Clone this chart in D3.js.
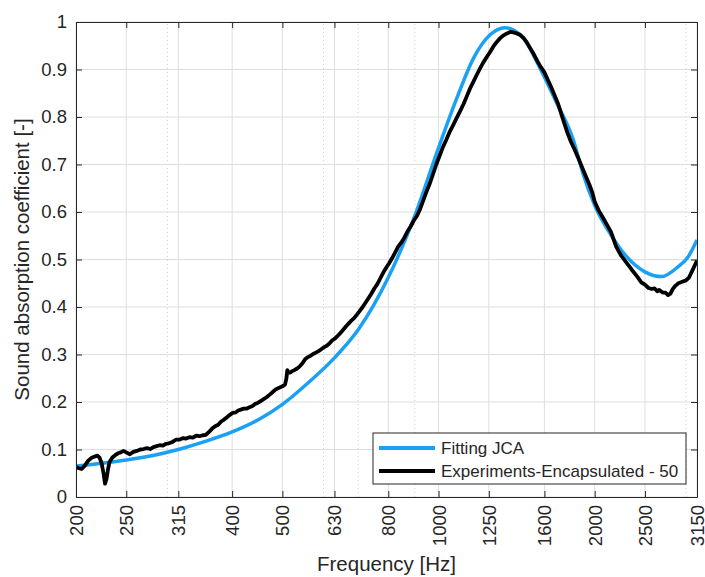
<!DOCTYPE html>
<html>
<head>
<meta charset="utf-8">
<script src="https://cdn.jsdelivr.net/npm/d3@7"></script>
<style>
  body { margin: 0; background: #fff; }
  svg { font-family: "Liberation Sans", Arial, sans-serif; }
</style>
</head>
<body>
<script>
// x ticks (third-octave centre frequencies) and minor grid
const xTicks = [200, 250, 315, 400, 500, 630, 800, 1000, 1250, 1600, 2000, 2500, 3150];
const xMinor = [300, 600, 700, 900, 3000];
const yTicks = [0, 0.1, 0.2, 0.3, 0.4, 0.5, 0.6, 0.7, 0.8, 0.9, 1];

// Fitting JCA
const fitFreq = [200, 225, 250, 280, 315, 355, 400, 450, 500, 560, 630, 700, 800, 900, 1000, 1084, 1167, 1257, 1300, 1340, 1400, 1457, 1569, 1689, 1819, 1900, 2000, 2141, 2305, 2500, 2691, 2898, 3030, 3150];
const fitAlpha = [0.065, 0.071, 0.078, 0.087, 0.100, 0.117, 0.137, 0.163, 0.195, 0.240, 0.293, 0.352, 0.462, 0.592, 0.735, 0.839, 0.923, 0.973, 0.984, 0.988, 0.982, 0.966, 0.903, 0.830, 0.752, 0.680, 0.614, 0.555, 0.506, 0.474, 0.464, 0.485, 0.506, 0.541];

// Experiments - encapsulated 50
const expFreq = [200, 202, 205, 208, 211, 214, 217, 220, 222, 224, 226, 227.5, 229, 230.5, 232, 235, 238, 241, 244, 247, 250, 254, 258, 262, 266, 270, 274, 278, 282, 286, 290, 294, 298, 302, 307, 312, 317, 322, 326, 331, 336, 341, 346, 351, 356, 361, 366, 371, 376, 381, 386, 391, 396, 401, 406, 411, 416, 421, 426, 432, 437, 443, 448, 454, 460, 466, 472, 479, 486, 493, 500, 506, 509, 511, 514, 518, 522, 527, 533, 540, 547, 553, 559, 566, 573, 580, 587, 594, 601, 608, 616, 624, 632, 640, 648, 656, 664, 672, 680, 688, 696, 705, 714, 723, 732, 742, 752, 762, 772, 782, 792, 803, 814, 825, 836, 848, 860, 872, 884, 896, 909, 922, 935, 948, 962, 976, 990, 1006, 1020, 1035, 1050, 1067, 1084, 1100, 1118, 1135, 1150, 1167, 1185, 1203, 1220, 1238, 1257, 1275, 1295, 1315, 1335, 1355, 1375, 1395, 1415, 1435, 1457, 1480, 1500, 1525, 1550, 1575, 1600, 1625, 1650, 1675, 1700, 1725, 1750, 1773, 1800, 1830, 1862, 1890, 1920, 1955, 1980, 2000, 2036, 2070, 2110, 2150, 2200, 2250, 2305, 2360, 2416, 2460, 2500, 2540, 2575, 2610, 2640, 2664, 2700, 2740, 2770, 2800, 2830, 2857, 2900, 2950, 3000, 3040, 3080, 3120, 3150];
const expAlpha = [0.063, 0.061, 0.059, 0.066, 0.076, 0.082, 0.085, 0.087, 0.083, 0.072, 0.050, 0.028, 0.038, 0.058, 0.073, 0.083, 0.088, 0.092, 0.094, 0.097, 0.094, 0.090, 0.095, 0.097, 0.100, 0.101, 0.103, 0.101, 0.105, 0.107, 0.109, 0.108, 0.112, 0.113, 0.116, 0.121, 0.121, 0.124, 0.123, 0.126, 0.125, 0.129, 0.128, 0.130, 0.131, 0.137, 0.144, 0.149, 0.152, 0.159, 0.163, 0.168, 0.173, 0.177, 0.178, 0.182, 0.184, 0.186, 0.186, 0.189, 0.191, 0.196, 0.198, 0.202, 0.206, 0.210, 0.215, 0.221, 0.227, 0.230, 0.233, 0.237, 0.250, 0.267, 0.262, 0.262, 0.265, 0.267, 0.270, 0.275, 0.282, 0.290, 0.294, 0.297, 0.301, 0.304, 0.307, 0.311, 0.315, 0.318, 0.323, 0.330, 0.334, 0.340, 0.346, 0.353, 0.360, 0.366, 0.372, 0.377, 0.384, 0.392, 0.400, 0.409, 0.418, 0.428, 0.439, 0.448, 0.460, 0.472, 0.482, 0.492, 0.503, 0.515, 0.527, 0.536, 0.547, 0.560, 0.570, 0.582, 0.592, 0.607, 0.625, 0.643, 0.660, 0.680, 0.700, 0.720, 0.737, 0.752, 0.768, 0.783, 0.798, 0.812, 0.828, 0.845, 0.860, 0.874, 0.889, 0.903, 0.915, 0.926, 0.937, 0.948, 0.958, 0.966, 0.972, 0.976, 0.979, 0.978, 0.976, 0.973, 0.967, 0.957, 0.946, 0.933, 0.918, 0.905, 0.894, 0.878, 0.862, 0.845, 0.828, 0.806, 0.785, 0.766, 0.748, 0.731, 0.712, 0.695, 0.677, 0.657, 0.640, 0.622, 0.603, 0.590, 0.574, 0.558, 0.527, 0.508, 0.493, 0.478, 0.464, 0.452, 0.447, 0.440, 0.438, 0.439, 0.433, 0.436, 0.431, 0.430, 0.425, 0.428, 0.438, 0.444, 0.450, 0.453, 0.456, 0.462, 0.475, 0.488, 0.498];

const seriesNames = ["Fitting JCA", "Experiments-Encapsulated - 50"];
const seriesColors = ["#1aa1f5", "#000000"];

const W = 705, H = 577;
const margin = {left: 76, right: 8, top: 22, bottom: 80};
const axisColor = "#262626";

const svg = d3.select("body").append("svg")
    .attr("width", W)
    .attr("height", H);

const x = d3.scaleLog().domain([200, 3150]).range([margin.left, W - margin.right]);
const y = d3.scaleLinear().domain([0, 1]).range([H - margin.bottom, margin.top]);

// grid
const grid = svg.append("g");
grid.selectAll("line.xg").data(xTicks).enter().append("line")
    .attr("x1", d => x(d)).attr("x2", d => x(d))
    .attr("y1", y(0)).attr("y2", y(1))
    .attr("stroke", "#dedede").attr("stroke-width", 1);
grid.selectAll("line.xm").data(xMinor).enter().append("line")
    .attr("x1", d => x(d)).attr("x2", d => x(d))
    .attr("y1", y(0)).attr("y2", y(1))
    .attr("stroke", "#cfcfcf").attr("stroke-width", 1)
    .attr("stroke-dasharray", "1,3");
grid.selectAll("line.yg").data(yTicks).enter().append("line")
    .attr("x1", x(200)).attr("x2", x(3150))
    .attr("y1", d => y(d)).attr("y2", d => y(d))
    .attr("stroke", "#dedede").attr("stroke-width", 1);

svg.append("clipPath").attr("id", "clip").append("rect")
    .attr("x", x(200)).attr("y", y(1))
    .attr("width", x(3150) - x(200)).attr("height", y(0) - y(1));

const line = d3.line().x(d => x(d[0])).y(d => y(d[1]));

const fitData = fitFreq.map((f, i) => [f, fitAlpha[i]]);
const expData = expFreq.map((f, i) => [f, expAlpha[i]]);

const plot = svg.append("g").attr("clip-path", "url(#clip)");
plot.append("path").datum(fitData)
    .attr("d", line.curve(d3.curveMonotoneX))
    .attr("fill", "none").attr("stroke", seriesColors[0]).attr("stroke-width", 3.5);
plot.append("path").datum(expData)
    .attr("d", line.curve(d3.curveLinear))
    .attr("fill", "none").attr("stroke", seriesColors[1]).attr("stroke-width", 3.8)
    .attr("stroke-linejoin", "round");

// axes (ticks point inward)
const xAxis = svg.append("g")
    .attr("transform", `translate(0,${y(0)})`)
    .call(d3.axisBottom(x).tickValues(xTicks).tickFormat(d3.format("d")).tickSizeInner(-6).tickSizeOuter(0).tickPadding(8));
xAxis.selectAll("text")
    .attr("transform", d => `rotate(-90)`)
    .attr("x", -8).attr("y", 0).attr("dy", "0.35em")
    .style("text-anchor", "end");

svg.append("g")
    .attr("transform", `translate(0,${y(1)})`)
    .call(d3.axisTop(x).tickValues(xTicks).tickFormat("").tickSizeInner(-6).tickSizeOuter(0));

svg.append("g")
    .attr("transform", `translate(${x(200)},0)`)
    .call(d3.axisLeft(y).tickValues(yTicks).tickFormat(d => d === 0 || d === 1 ? d3.format("d")(d) : d3.format(".1f")(d)).tickSizeInner(-6).tickSizeOuter(0).tickPadding(9));

svg.append("g")
    .attr("transform", `translate(${x(3150)},0)`)
    .call(d3.axisRight(y).tickValues(yTicks).tickFormat("").tickSizeInner(-6).tickSizeOuter(0));

svg.selectAll(".domain").attr("stroke", axisColor);
svg.selectAll(".tick line").attr("stroke", axisColor);
svg.selectAll(".tick text").attr("fill", axisColor).style("font-size", "18.5px")
    .style("font-family", "'Liberation Sans', Arial, sans-serif");

// axis labels
svg.append("text")
    .attr("x", (x(200) + x(3150)) / 2).attr("y", 571)
    .attr("text-anchor", "middle").attr("fill", axisColor)
    .style("font-size", "20.5px")
    .text("Frequency [Hz]");
svg.append("text")
    .attr("transform", `translate(29,${(y(0) + y(1)) / 2}) rotate(-90)`)
    .attr("text-anchor", "middle").attr("fill", axisColor)
    .style("font-size", "20.5px")
    .text("Sound absorption coefficient [-]");

// legend
const lg = svg.append("g").attr("transform", "translate(373,433)");
lg.append("rect").attr("width", 313).attr("height", 51)
    .attr("fill", "#fff").attr("stroke", axisColor).attr("stroke-width", 1);
seriesNames.forEach((name, i) => {
  const yy = 15 + i * 23;
  lg.append("line").attr("x1", 6).attr("x2", 62).attr("y1", yy).attr("y2", yy)
      .attr("stroke", seriesColors[i]).attr("stroke-width", 4);
  lg.append("text").attr("x", 68).attr("y", yy).attr("dy", "0.35em")
      .attr("fill", axisColor).style("font-size", "17px").text(name);
});
</script>
</body>
</html>
